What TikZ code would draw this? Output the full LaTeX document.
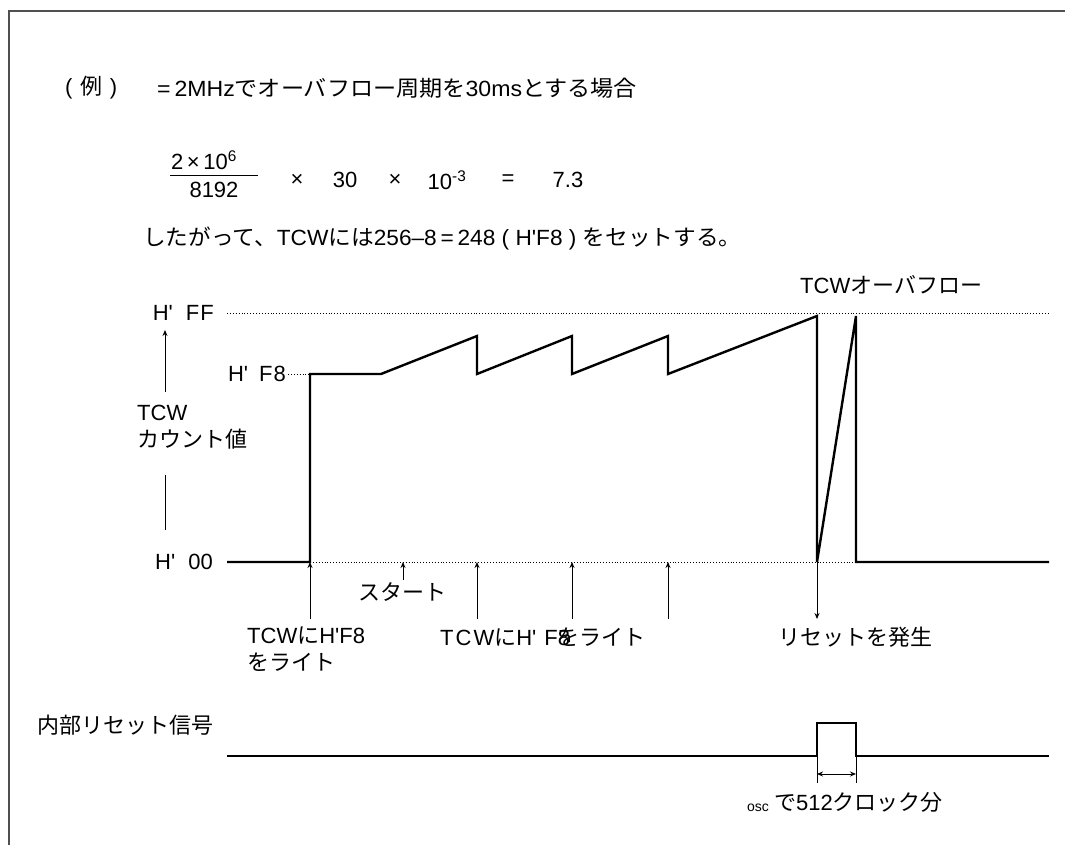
\documentclass[tikz,border=0pt]{standalone}
\usepackage{fontspec}
\setmainfont{Liberation Sans}
\newfontfamily\jpfont{Noto Sans CJK JP}
\newcommand\jtext[1]{{\jpfont #1}}
\newcommand\ap{\textquotesingle}
\usetikzlibrary{arrows.meta}
\definecolor{framegray}{HTML}{505050}

\begin{document}
\begin{tikzpicture}[x=1pt,y=-1pt,>=Stealth,
  font=\fontsize{22}{27}\selectfont,
  lbl/.style={inner sep=0pt},
  wave/.style={line width=2.4pt},
  guide/.style={dotted,line width=0.9pt},
  pointer/.style={-{Stealth[length=6pt,width=5pt]},line width=0.9pt}]
  \useasboundingbox (0,0) rectangle (1065,845);
  % frame
  \draw[framegray,line width=1.4pt] (9,845) -- (9,11) -- (1065,11);

  % worked example
  \node[lbl,anchor=west] (exmark) at (65,88) {(\hspace{0.35em}\jtext{例}\hspace{0.35em})};
  \node[lbl,anchor=west] (cond) at (157,88) {\scalebox{1.05}[1]{=\,2MHz\jtext{でオーバフロー周期を}30ms\jtext{とする場合}}};
  \node[lbl] (num) at (204,160) {2\,×\,10\textsuperscript{6}};
  \node[lbl] (den) at (214,190) {8192};
  \draw[line width=0.9pt] (170,175) -- (258,175);
  \node[lbl] (times1) at (297,180) {×};
  \node[lbl] (thirty) at (345,180) {30};
  \node[lbl] (times2) at (395,180) {×};
  \node[lbl] (tenexp) at (447,180) {10\textsuperscript{-3}};
  \node[lbl] (equal) at (508,180) {=};
  \node[lbl] (result) at (568,180) {7.3};
  \node[lbl,anchor=west] (hence) at (143,238) {\scalebox{1.03}[1]{\jtext{したがって、}TCW\jtext{には}256–8\,=\,248 ( H\ap F8 ) \jtext{をセットする。}}};

  % count axis
  \node[lbl,anchor=east] (lvff) at (214,313) {H\ap\hspace{13pt}F\hspace{1pt}F};
  \node[lbl,anchor=east] (lvf8) at (286,374) {H\ap\hspace{11pt}F\hspace{1pt}8};
  \node[lbl,anchor=east] (lvzero) at (213,562) {H\ap\hspace{13pt}00};
  \node[lbl,anchor=north west,align=left] (axisname) at (137,405) {TCW\\\jtext{カウント値}};
  \coordinate (axup) at (165,330);
  \coordinate (axmid) at (165,392);
  \coordinate (axlow) at (165,475);
  \coordinate (axend) at (165,530);
  \draw[pointer] (axmid) -- (axup);
  \draw[line width=0.9pt] (axlow) -- (axend);

  % guide lines
  \draw[guide] (227,313) -- (1050,313);
  \draw[guide] (288,374) -- (310,374);
  \draw[guide] (310,562) -- (856,562);

  % counter waveform
  \draw[wave] (227,562) -- (310,562) -- (310,374) -- (381,374) -- (477,336)
    -- (477,374) -- (572,336) -- (572,374) -- (668,336) -- (668,374)
    -- (817,316) -- (817,562) -- (856,316) -- (856,562) -- (1049,562);

  % events
  \node[lbl,anchor=west] (ovf) at (800,285) {TCW\jtext{オーバフロー}};
  \node[lbl,anchor=west] (startlbl) at (358,592) {\jtext{スタート}};
  \draw[pointer] (403,580) -- (403,562);
  \node[lbl,anchor=north west,align=left] (firstwr) at (247,627) {TCW\jtext{に}H\ap F8\\\jtext{をライト}};
  \node[lbl,anchor=west] (rewr) at (440,637) {T\hspace{2pt}C\hspace{2pt}W\jtext{に}H\ap\hspace{8pt}F\rlap{8}\jtext{をライト}};
  \foreach \xw in {310,477,572,668}
    \draw[pointer] (\xw,619) -- (\xw,562);
  \node[lbl,anchor=west] (rstlbl) at (778,637) {\jtext{リセットを発生}};
  \draw[pointer] (817,562) -- (817,619);

  % internal reset
  \node[lbl,anchor=west] (rstsig) at (37,725) {\jtext{内部リセット信号}};
  \draw[line width=2pt] (227,756) -- (817,756) -- (817,723) -- (856,723)
    -- (856,756) -- (1049,756);
  \draw[line width=0.9pt] (817,756) -- (817,783);
  \draw[line width=0.9pt] (856,756) -- (856,783);
  \draw[{Stealth[length=6pt,width=5pt]}-{Stealth[length=6pt,width=5pt]},line width=0.9pt] (817,774) -- (856,774);
  \node[lbl,anchor=west,font=\fontsize{14}{16}\selectfont] (osc) at (747,808) {osc};
  \node[lbl,anchor=west] (clk) at (774,802) {\jtext{で}512\jtext{クロック分}};
\end{tikzpicture}
\end{document}
